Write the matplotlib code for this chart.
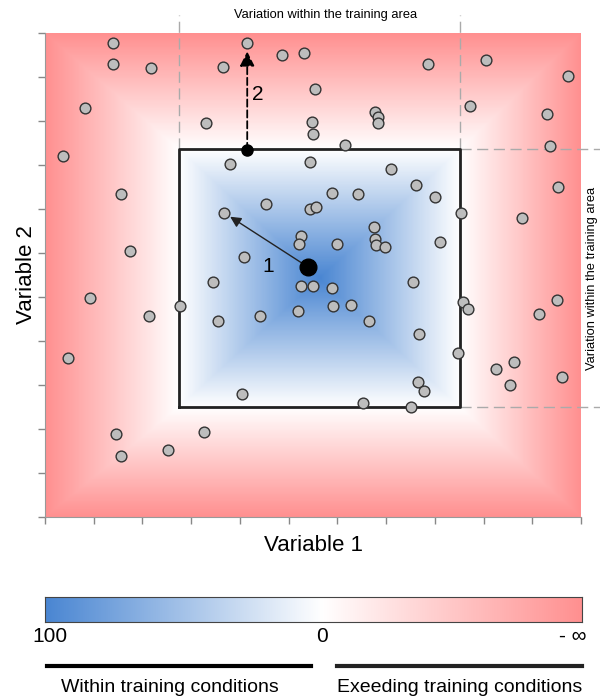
import numpy as np
import matplotlib
matplotlib.use("Agg")
import matplotlib.pyplot as plt
from matplotlib.colors import LinearSegmentedColormap
from matplotlib.lines import Line2D

plt.rcParams['font.family'] = ['Liberation Sans', 'DejaVu Sans']

# sample points (Variable 1, Variable 2)
pts_x = [1.40, 1.40, 2.18, 0.82, 0.37, 1.56, 1.75, 4.15, 3.66, 4.87, 5.32, 3.31,
         3.80, 4.54, 3.68, 4.09, 7.86, 9.06, 10.74, 5.54, 8.73, 10.31, 6.78, 6.84,
         6.84, 5.48, 5.50, 6.16, 10.37, 5.44, 7.10, 7.62, 5.89, 6.43, 8.01, 8.54,
         10.53, 9.79, 5.44, 5.56, 6.76, 6.78, 6.80, 6.98, 6.00, 8.11, 5.26, 5.22,
         3.45, 2.77, 3.55, 4.41, 5.20, 5.26, 5.50, 4.05, 5.89, 5.91, 6.28, 6.65,
         7.56, 7.68, 8.48, 8.58, 8.69, 7.66, 7.78, 6.53, 7.52, 10.14, 10.51, 9.26,
         9.63, 9.55, 10.60, 0.92, 2.14, 0.47, 1.46, 1.56, 2.53, 3.26]
pts_y = [10.77, 10.30, 10.20, 9.30, 8.20, 7.34, 6.05, 10.77, 10.23, 10.50, 10.55, 8.95,
         8.02, 7.11, 6.91, 5.91, 10.30, 10.39, 10.02, 9.73, 9.34, 9.16, 9.20, 9.09,
         8.95, 8.98, 8.70, 8.45, 8.43, 8.07, 7.91, 7.55, 7.36, 7.34, 7.27, 6.91,
         7.50, 6.80, 7.00, 7.05, 6.59, 6.32, 6.18, 6.14, 6.20, 6.25, 6.39, 6.20,
         5.34, 4.80, 4.45, 4.57, 4.68, 5.25, 5.25, 2.80, 5.20, 4.80, 4.82, 4.45,
         5.34, 4.16, 3.73, 4.89, 4.73, 3.07, 2.86, 2.59, 2.50, 4.61, 4.93, 3.36,
         3.52, 3.00, 3.18, 4.98, 4.57, 3.61, 1.89, 1.39, 1.52, 1.93]

# training area and reference points
train_x = [2.75, 8.52]
train_y = [2.50, 8.36]
center = (5.40, 5.68)
edge_pt = (4.15, 8.34)
target1 = (3.68, 6.91)
target2 = (4.15, 10.77)

scale_labels = ["100", "0", "- \u221e"]
group_labels = ["Within training conditions", "Exeeding training conditions"]

cmap = LinearSegmentedColormap.from_list(
    "aoa", [(0, "#4a86d2"), (0.516, "#ffffff"), (1, "#ff9090")])

fig = plt.figure(figsize=(6, 6.99), dpi=100)
W, H = 600, 699


def fx(px):
    return px / W


def fy(py):
    return 1 - py / H


ax = fig.add_axes([fx(45), fy(517), 536 / W, 484 / H])
ax.set_xlim(0, 11)
ax.set_ylim(0, 11)

# background field: distance to the training area (chebyshev style)
gx, gy = np.meshgrid(np.linspace(0, 11, 600), np.linspace(0, 11, 600))
cx, cy = np.mean(train_x), np.mean(train_y)
hx, hy = (train_x[1] - train_x[0]) / 2, (train_y[1] - train_y[0]) / 2
d_in = np.maximum(np.abs(gx - cx) / hx, np.abs(gy - cy) / hy)
ox = np.where(gx < train_x[0], (train_x[0] - gx) / train_x[0],
              np.where(gx > train_x[1], (gx - train_x[1]) / (11 - train_x[1]), 0))
oy = np.where(gy < train_y[0], (train_y[0] - gy) / train_y[0],
              np.where(gy > train_y[1], (gy - train_y[1]) / (11 - train_y[1]), 0))
d_out = np.maximum(ox, oy)
field = np.where(d_in <= 1, 0.516 * d_in, 0.516 + 0.484 * d_out)
ax.imshow(field, origin="lower", extent=[0, 11, 0, 11], cmap=cmap, vmin=0, vmax=1,
          aspect="auto", interpolation="bilinear", zorder=0)

# training box
ax.plot([train_x[0], train_x[1], train_x[1], train_x[0], train_x[0]],
        [train_y[0], train_y[0], train_y[1], train_y[1], train_y[0]],
        color="#222222", lw=2, zorder=2)

# dashed guides (extend outside the axes)
dash = dict(color="#aaaaaa", lw=1, ls=(0, (8, 4)), clip_on=False, zorder=1)
ax.plot([train_x[0], train_x[0]], [train_y[1], 11.4], **dash)
ax.plot([train_x[1], train_x[1]], [train_y[1], 11.4], **dash)
ax.plot([train_x[1], 11.4], [train_y[1], train_y[1]], **dash)
ax.plot([train_x[1], 11.4], [train_y[0], train_y[0]], **dash)

ax.scatter(pts_x, pts_y, s=60, facecolor="#bdbdbd", edgecolor="#333333",
           linewidth=1, zorder=3)

# arrows
ax.annotate("", xy=target1, xytext=center,
            arrowprops=dict(arrowstyle="-|>", color="#222222", lw=1,
                            mutation_scale=16, shrinkA=0, shrinkB=5), zorder=4)
ax.annotate("", xy=target2, xytext=edge_pt,
            arrowprops=dict(arrowstyle="-|>", color="black", lw=1.3, ls=(0, (4, 2)),
                            mutation_scale=22, shrinkA=0, shrinkB=6), zorder=4)
ax.text(4.58, 5.7, "1", fontsize=15, ha="center", va="center", zorder=5)
ax.text(4.36, 9.6, "2", fontsize=15, ha="center", va="center", zorder=5)

ax.plot(*center, "o", color="black", ms=12, zorder=5)
ax.plot(*edge_pt, "o", color="black", ms=8, zorder=5)

ax.set_xticks(np.arange(12))
ax.set_yticks(np.arange(12))
ax.tick_params(labelbottom=False, labelleft=False, color="#888888", length=5, width=1)
for s in ["top", "right"]:
    ax.spines[s].set_visible(False)
for s in ["left", "bottom"]:
    ax.spines[s].set_color("#999999")
ax.set_xlabel("Variable 1", fontsize=16, labelpad=8)
ax.set_ylabel("Variable 2", fontsize=16)
ax.yaxis.set_label_coords(-0.015, 0.5)

fig.text(fx(326), fy(15), "Variation within the training area", fontsize=9.3,
         ha="center", va="center")
fig.text(fx(592), fy(278), "Variation within the training area", fontsize=9.3,
         ha="center", va="center", rotation=90)

# colour scale
cax = fig.add_axes([fx(45), fy(622), 537 / W, 25 / H])
cax.imshow(np.linspace(0, 1, 256)[None, :], cmap=cmap, aspect="auto",
           extent=[0, 1, 0, 1])
cax.set_xticks([])
cax.set_yticks([])
for s in cax.spines.values():
    s.set_color("#444444")

fig.text(fx(50), fy(636), scale_labels[0], fontsize=15, ha="center", va="center")
fig.text(fx(322), fy(636), scale_labels[1], fontsize=15, ha="center", va="center")
fig.text(fx(573), fy(636), scale_labels[2], fontsize=15, ha="center", va="center")

fig.add_artist(Line2D([fx(47), fx(311)], [fy(666), fy(666)], color="black", lw=3))
fig.add_artist(Line2D([fx(337), fx(582)], [fy(666), fy(666)], color="#222222", lw=3))
fig.text(fx(170), fy(688), group_labels[0], fontsize=14, ha="center", va="center")
fig.text(fx(460), fy(688), group_labels[1], fontsize=14, ha="center", va="center")

fig.savefig("out.png", dpi=100)
